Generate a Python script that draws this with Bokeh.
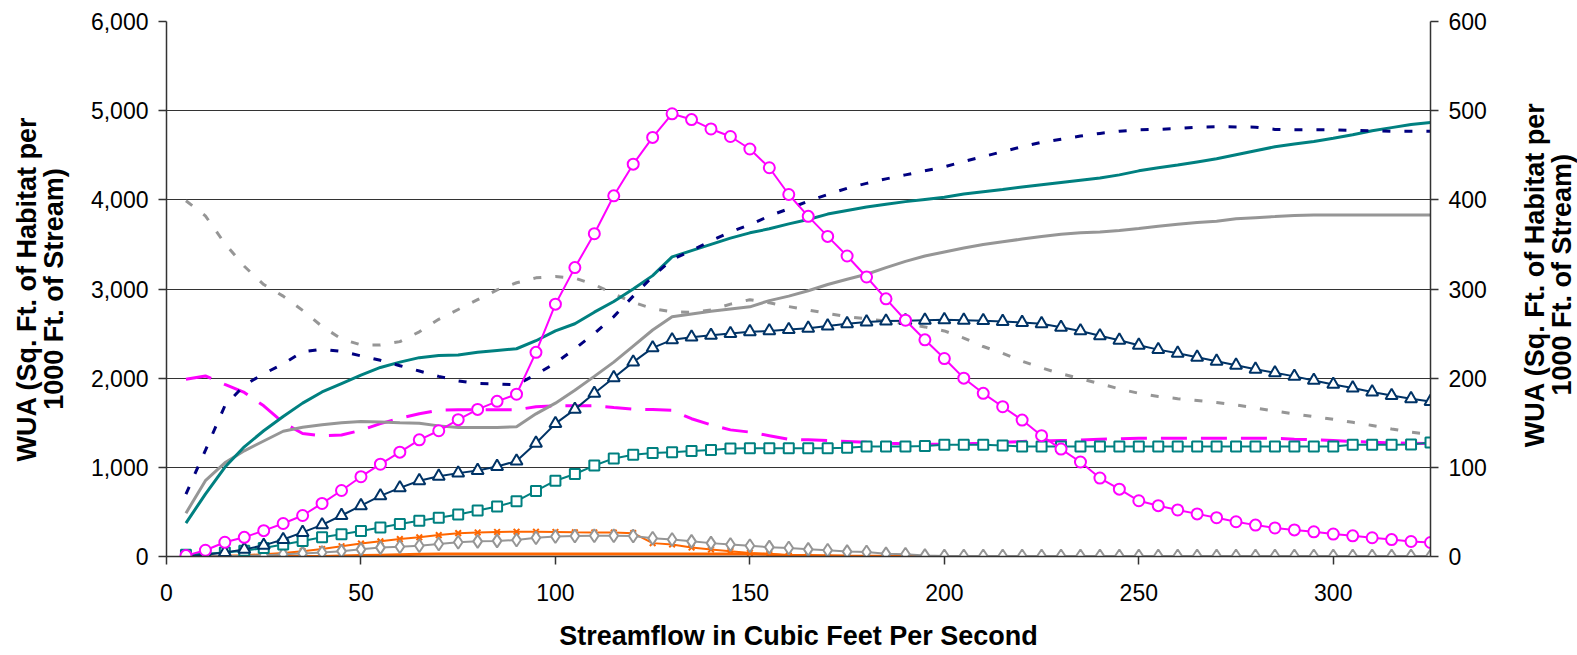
import math
from bokeh.plotting import figure
from bokeh.layouts import row
from bokeh.models import Range1d, LinearAxis, NumeralTickFormatter, FixedTicker
from bokeh.core.properties import value
from bokeh.embed import file_html
from bokeh.resources import INLINE

# Streamflow (cfs)
FLOW = list(range(5, 330, 5))

X_TICKS = [0, 50, 100, 150, 200, 250, 300]
Y_TICKS = [0, 1000, 2000, 3000, 4000, 5000, 6000]
Y2_TICKS = [0, 100, 200, 300, 400, 500, 600]

X_TITLE = "Streamflow in Cubic Feet Per Second"
Y_TITLE = "WUA (Sq. Ft. of Habitat per\n1000 Ft. of Stream)"

NAVY_DASH = [700, 1190, 1690, 1920, 2050, 2160, 2295, 2325, 2300, 2250,
             2200, 2140, 2080, 2020, 1970, 1940, 1935, 1925, 2040, 2170,
             2330, 2500, 2690, 2920, 3140, 3330, 3430, 3540, 3640, 3720,
             3820, 3900, 3985, 4060, 4130, 4185, 4235, 4280, 4325, 4370,
             4430, 4485, 4540, 4595, 4645, 4680, 4715, 4745, 4770, 4785,
             4790, 4800, 4815, 4820, 4818, 4815, 4790, 4785, 4785, 4785,
             4780, 4775, 4770, 4770, 4770]

TEAL_SOLID = [374, 700, 1000, 1230, 1410, 1570, 1720, 1845, 1940, 2035,
              2120, 2180, 2230, 2255, 2260, 2290, 2310, 2330, 2420, 2530,
              2610, 2740, 2860, 3000, 3150, 3360, 3430, 3500, 3570, 3630,
              3675, 3730, 3780, 3840, 3880, 3920, 3950, 3980, 4005, 4030,
              4065, 4090, 4115, 4145, 4170, 4195, 4220, 4245, 4280, 4325,
              4360, 4390, 4425, 4460, 4505, 4550, 4595, 4625, 4655, 4690,
              4730, 4775, 4810, 4845, 4866]

GRAY_SOLID = [486, 850, 1050, 1185, 1295, 1405, 1450, 1478, 1500, 1513,
              1508, 1500, 1495, 1465, 1446, 1446, 1446, 1455, 1600, 1720,
              1865, 2020, 2180, 2360, 2540, 2690, 2720, 2750, 2775, 2800,
              2870, 2920, 2980, 3050, 3110, 3165, 3240, 3310, 3370, 3415,
              3460, 3500, 3530, 3560, 3590, 3615, 3630, 3640, 3655, 3678,
              3705, 3727, 3745, 3760, 3788, 3800, 3812, 3825, 3831, 3831,
              3831, 3831, 3831, 3831, 3831]

GRAY_DASH = [3990, 3820, 3510, 3255, 3050, 2920, 2760, 2580, 2440, 2373,
             2373, 2410, 2520, 2660, 2770, 2880, 2990, 3070, 3125, 3139,
             3121, 3050, 2945, 2850, 2780, 2745, 2740, 2765, 2830, 2880,
             2845, 2803, 2765, 2725, 2690, 2665, 2640, 2610, 2575, 2530,
             2450, 2355, 2280, 2190, 2115, 2050, 1995, 1938, 1880, 1830,
             1795, 1770, 1750, 1727, 1700, 1665, 1630, 1600, 1568, 1538,
             1505, 1470, 1430, 1395, 1370]

MAGENTA_DASH = [1989, 2025, 1930, 1840, 1690, 1500, 1380, 1353, 1362, 1415,
                1490, 1550, 1600, 1640, 1645, 1645, 1645, 1645, 1680, 1690,
                1690, 1690, 1670, 1652, 1648, 1640, 1545, 1476, 1420, 1395,
                1355, 1315, 1308, 1300, 1290, 1280, 1270, 1265, 1260, 1260,
                1265, 1270, 1280, 1290, 1295, 1300, 1305, 1316, 1320, 1327,
                1327, 1327, 1327, 1327, 1327, 1327, 1325, 1316, 1310, 1300,
                1290, 1280, 1275, 1270, 1265]

MAGENTA_CIRCLES = [10, 70, 160, 215, 290, 370, 460, 595, 740, 895,
                   1035, 1170, 1308, 1410, 1535, 1650, 1740, 1820, 2290, 2830,
                   3240, 3620, 4045, 4400, 4700, 4965, 4900, 4795, 4710, 4570,
                   4360, 4060, 3815, 3590, 3370, 3135, 2890, 2650, 2430, 2220,
                   2000, 1830, 1680, 1530, 1355, 1205, 1060, 880, 755, 625,
                   570, 522, 478, 435, 390, 352, 320, 298, 277, 252,
                   232, 210, 190, 168, 157]

NAVY_TRIANGLES = [0, 20, 45, 80, 125, 190, 270, 355, 460, 570,
                  680, 770, 850, 900, 935, 965, 1010, 1070, 1270, 1490,
                  1650, 1830, 2005, 2180, 2340, 2430, 2460, 2480, 2500, 2520,
                  2530, 2545, 2560, 2585, 2610, 2630, 2640, 2645, 2650, 2655,
                  2650, 2645, 2635, 2625, 2610, 2570, 2530, 2475, 2425, 2370,
                  2320, 2280, 2235, 2190, 2145, 2100, 2060, 2020, 1975, 1930,
                  1890, 1845, 1805, 1770, 1738]

TEAL_SQUARES = [20, 30, 45, 65, 95, 135, 175, 215, 250, 285,
                325, 365, 400, 435, 470, 515, 560, 620, 735, 850,
                925, 1020, 1100, 1140, 1160, 1170, 1183, 1195, 1210, 1215,
                1215, 1215, 1215, 1215, 1220, 1233, 1233, 1233, 1240, 1252,
                1252, 1252, 1245, 1233, 1233, 1233, 1233, 1233, 1233, 1233,
                1233, 1233, 1233, 1233, 1233, 1233, 1233, 1233, 1233, 1233,
                1252, 1252, 1252, 1255, 1278]

ORANGE_MARKED = [0, 3, 8, 15, 25, 40, 60, 85, 115, 145,
                 170, 195, 215, 240, 262, 270, 275, 278, 278, 275,
                 272, 270, 268, 262, 150, 135, 100, 78, 60, 40,
                 28, 10, 5, 0, 0, 0, 0, 0, 0, 0,
                 0, 0, 0, 0, 0, 0, 0, 0, 0, 0,
                 0, 0, 0, 0, 0, 0, 0, 0, 0, 0,
                 0, 0, 0, 0, 0]

ORANGE_FLAT = [0, 0, 0, 0, 0, 0, 0, 0, 5, 10,
               15, 20, 25, 28, 28, 28, 28, 28, 28, 28,
               28, 28, 28, 28, 28, 28, 28, 28, 28, 28,
               25, 12, 10, 8, 5, 4, 2, 1, 0, 0,
               0, 0, 0, 0, 0, 0, 0, 0, 0, 0,
               0, 0, 0, 0, 0, 0, 0, 0, 0, 0,
               0, 0, 0, 0, 0]

GRAY_DIAMONDS = [0, 2, 5, 8, 12, 25, 35, 45, 60, 80,
                 100, 110, 120, 140, 160, 170, 175, 185, 210, 225,
                 230, 232, 232, 230, 205, 190, 170, 150, 135, 120,
                 105, 95, 80, 70, 55, 50, 30, 25, 10, 5,
                 5, 5, 5, 5, 5, 5, 5, 5, 5, 5,
                 5, 5, 5, 5, 5, 5, 5, 5, 5, 5,
                 5, 5, 5, 5, 5]

NAVY = "#000080"
TEAL = "#008080"
GRAY = "#969696"
MAGENTA = "#FF00FF"
DARKBLUE = "#003366"
ORANGE = "#FF6600"
FONT = "Liberation Sans"

W_MAIN, W_SIDE, H = 1490, 87, 655
BL, BR, BT, BB = 166, 60, 21, 99

p = figure(width=W_MAIN, height=H, output_backend="svg", toolbar_location=None,
           x_range=Range1d(0, 325), y_range=Range1d(0, 6000),
           min_border_left=BL, min_border_right=BR, min_border_top=BT,
           min_border_bottom=BB)
p.outline_line_color = None
p.background_fill_color = "white"
p.border_fill_color = "white"

p.extra_y_ranges = {"r": Range1d(0, 600)}

# series (drawing order)
p.line(FLOW, ORANGE_FLAT, line_color=ORANGE, line_width=3)
p.line(FLOW, ORANGE_MARKED, line_color=ORANGE, line_width=2)
p.scatter(FLOW, ORANGE_MARKED, marker="x", size=8, line_color=ORANGE, line_width=2)
p.line(FLOW, GRAY_DIAMONDS, line_color=GRAY, line_width=2)
p.scatter(FLOW, GRAY_DIAMONDS, marker="diamond", size=13, line_color=GRAY,
          fill_color="white", line_width=2)
p.line(FLOW, MAGENTA_DASH, line_color=MAGENTA, line_width=3, line_dash="26 14")
p.line(FLOW, TEAL_SQUARES, line_color=TEAL, line_width=2)
p.scatter(FLOW, TEAL_SQUARES, marker="square", size=10, line_color=TEAL,
          fill_color="white", line_width=2)
p.line(FLOW, GRAY_DASH, line_color=GRAY, line_width=3, line_dash="8 14")
p.line(FLOW, NAVY_TRIANGLES, line_color=DARKBLUE, line_width=2)
p.scatter(FLOW, NAVY_TRIANGLES, marker="triangle", size=12, line_color=DARKBLUE,
          fill_color="white", line_width=2)
p.line(FLOW, GRAY_SOLID, line_color=GRAY, line_width=3)
p.line(FLOW, TEAL_SOLID, line_color=TEAL, line_width=3)
p.line(FLOW, NAVY_DASH, line_color=NAVY, line_width=3, line_dash="8 14")
p.line(FLOW, MAGENTA_CIRCLES, line_color=MAGENTA, line_width=2)
p.scatter(FLOW, MAGENTA_CIRCLES, marker="circle", size=11, line_color=MAGENTA,
          fill_color="white", line_width=2)

# grid
p.xgrid.grid_line_color = None
p.ygrid.grid_line_color = "#333333"
p.ygrid.grid_line_width = 1
p.ygrid.ticker = FixedTicker(ticks=Y_TICKS)

def style_axis(ax):
    ax.axis_line_color = "#333333"
    ax.axis_line_width = 1.5
    ax.major_tick_line_color = "#333333"
    ax.major_tick_line_width = 1.5
    ax.major_tick_in = 0
    ax.major_tick_out = 8
    ax.minor_tick_line_color = None
    ax.major_label_text_font = FONT
    ax.major_label_text_font_size = "23px"
    ax.major_label_text_color = "black"
    ax.axis_label_text_font = FONT
    ax.axis_label_text_font_size = "27px"
    ax.axis_label_text_font_style = "bold"
    ax.axis_label_text_color = "black"
    ax.axis_label_text_line_height = 0.9

xa = p.xaxis[0]
style_axis(xa)
xa.ticker = FixedTicker(ticks=X_TICKS)
xa.major_label_standoff = 19
xa.axis_label = X_TITLE
xa.axis_label_standoff = 17

ya = p.yaxis[0]
style_axis(ya)
ya.ticker = FixedTicker(ticks=Y_TICKS)
ya.formatter = NumeralTickFormatter(format="0,0")
ya.major_label_standoff = 10
ya.axis_label = Y_TITLE
ya.axis_label_standoff = 19

ra = LinearAxis(y_range_name="r", ticker=FixedTicker(ticks=Y2_TICKS))
style_axis(ra)
ra.major_label_standoff = 10
p.add_layout(ra, "right")

# narrow side panel holding the right-hand axis title (pixel-based ranges)
s = figure(width=W_SIDE, height=H, output_backend="svg", toolbar_location=None,
           x_range=Range1d(0, W_SIDE), y_range=Range1d(0, H),
           x_axis_location=None, y_axis_location=None,
           min_border_left=0, min_border_right=0, min_border_top=0, min_border_bottom=0)
s.outline_line_color = None
s.xgrid.grid_line_color = None
s.ygrid.grid_line_color = None
s.background_fill_color = "white"
s.border_fill_color = "white"
s.text(x=[58], y=[H - 310], text=[Y_TITLE], angle=math.pi / 2,
       text_align="center", text_baseline="middle",
       text_font=value(FONT), text_font_size=value("27px"),
       text_font_style="bold", text_color="black", text_line_height=0.9)

layout = row(p, s, spacing=0)
open("out.html", "w").write(file_html(layout, INLINE))
